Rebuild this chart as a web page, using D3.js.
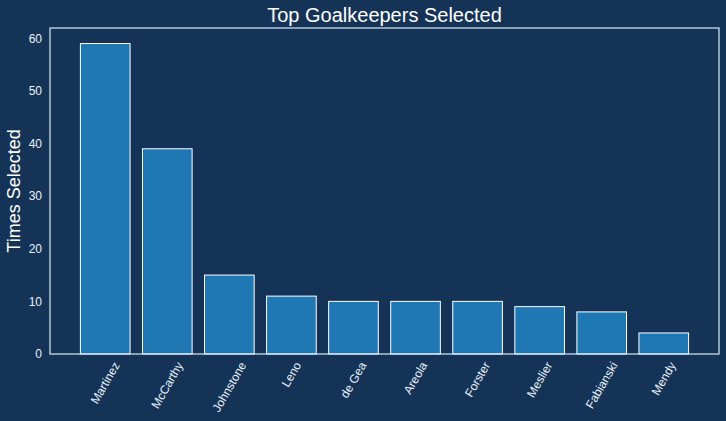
<!DOCTYPE html>
<html>
<head>
<meta charset="utf-8">
<script src="https://cdn.jsdelivr.net/npm/d3@7"></script>
<style>
  body { margin: 0; background: #143357; }
  text { font-family: "Liberation Sans", Arial, sans-serif; }
</style>
</head>
<body>
<script>
var width = 726;
var height = 421;

// data
var players = ["Martinez", "McCarthy", "Johnstone", "Leno", "de Gea", "Areola", "Forster", "Meslier", "Fabianski", "Mendy"];
var selected = [59, 39, 15, 11, 10, 10, 10, 9, 8, 4];
var yTicks = [0, 10, 20, 30, 40, 50, 60];

var plotLeft = 50, plotRight = 719, plotTop = 28, plotBottom = 354;

var svg = d3.select("body")
    .append("svg")
    .attr("width", width)
    .attr("height", height);

svg.append("rect")
    .attr("width", width)
    .attr("height", height)
    .attr("fill", "#143357");

var x = d3.scaleBand()
    .domain(players)
    .range([plotLeft, plotRight])
    .paddingInner(0.2)
    .paddingOuter(0.49);

var y = d3.scaleLinear()
    .domain([0, d3.max(selected) * 1.05])
    .range([plotBottom, plotTop]);

// bars
svg.selectAll("rect.bar")
    .data(players)
    .enter()
    .append("rect")
    .attr("class", "bar")
    .attr("x", function(d) { return x(d); })
    .attr("y", function(d, i) { return y(selected[i]); })
    .attr("width", x.bandwidth())
    .attr("height", function(d, i) { return y(0) - y(selected[i]); })
    .attr("fill", "#1f77b4")
    .attr("stroke", "white")
    .attr("stroke-width", 1);

// frame
svg.append("rect")
    .attr("x", plotLeft)
    .attr("y", plotTop)
    .attr("width", plotRight - plotLeft)
    .attr("height", plotBottom - plotTop)
    .attr("fill", "none")
    .attr("stroke", "#d6eaf8")
    .attr("stroke-width", 1.2);

// y axis
var yAxis = svg.append("g")
    .attr("transform", "translate(" + plotLeft + ",0)")
    .call(d3.axisLeft(y).tickValues(yTicks).tickSize(0).tickPadding(8));
yAxis.select(".domain").remove();
yAxis.selectAll("text")
    .attr("fill", "#e8f1fa")
    .style("font-size", "12px")
    .style("font-family", "'Liberation Sans', Arial, sans-serif");

// x axis, labels rotated 60 deg and centred under the bar
var xAxis = svg.append("g")
    .attr("transform", "translate(0," + plotBottom + ")")
    .call(d3.axisBottom(x).tickSize(0).tickFormat(""));
xAxis.select(".domain").remove();

var labels = svg.append("g");
players.forEach(function(p) {
    var t = labels.append("text")
        .text(p)
        .attr("fill", "#e8f1fa")
        .attr("text-anchor", "middle")
        .attr("dominant-baseline", "central")
        .style("font-size", "12px");
    var L = t.node().getComputedTextLength();
    var h = 12;
    var bh = L * Math.sin(Math.PI / 3) + h * Math.cos(Math.PI / 3);
    var cx = x(p) + x.bandwidth() / 2;
    var cy = plotBottom + 6 + bh / 2;
    t.attr("transform", "translate(" + cx + "," + cy + ") rotate(-60)");
});

// title
svg.append("text")
    .attr("x", (plotLeft + plotRight) / 2)
    .attr("y", 22)
    .attr("text-anchor", "middle")
    .attr("fill", "white")
    .style("font-size", "20px")
    .text("Top Goalkeepers Selected");

// y label
svg.append("text")
    .attr("transform", "translate(20," + ((plotTop + plotBottom) / 2) + ") rotate(-90)")
    .attr("text-anchor", "middle")
    .attr("fill", "white")
    .style("font-size", "18px")
    .text("Times Selected");
</script>
</body>
</html>
